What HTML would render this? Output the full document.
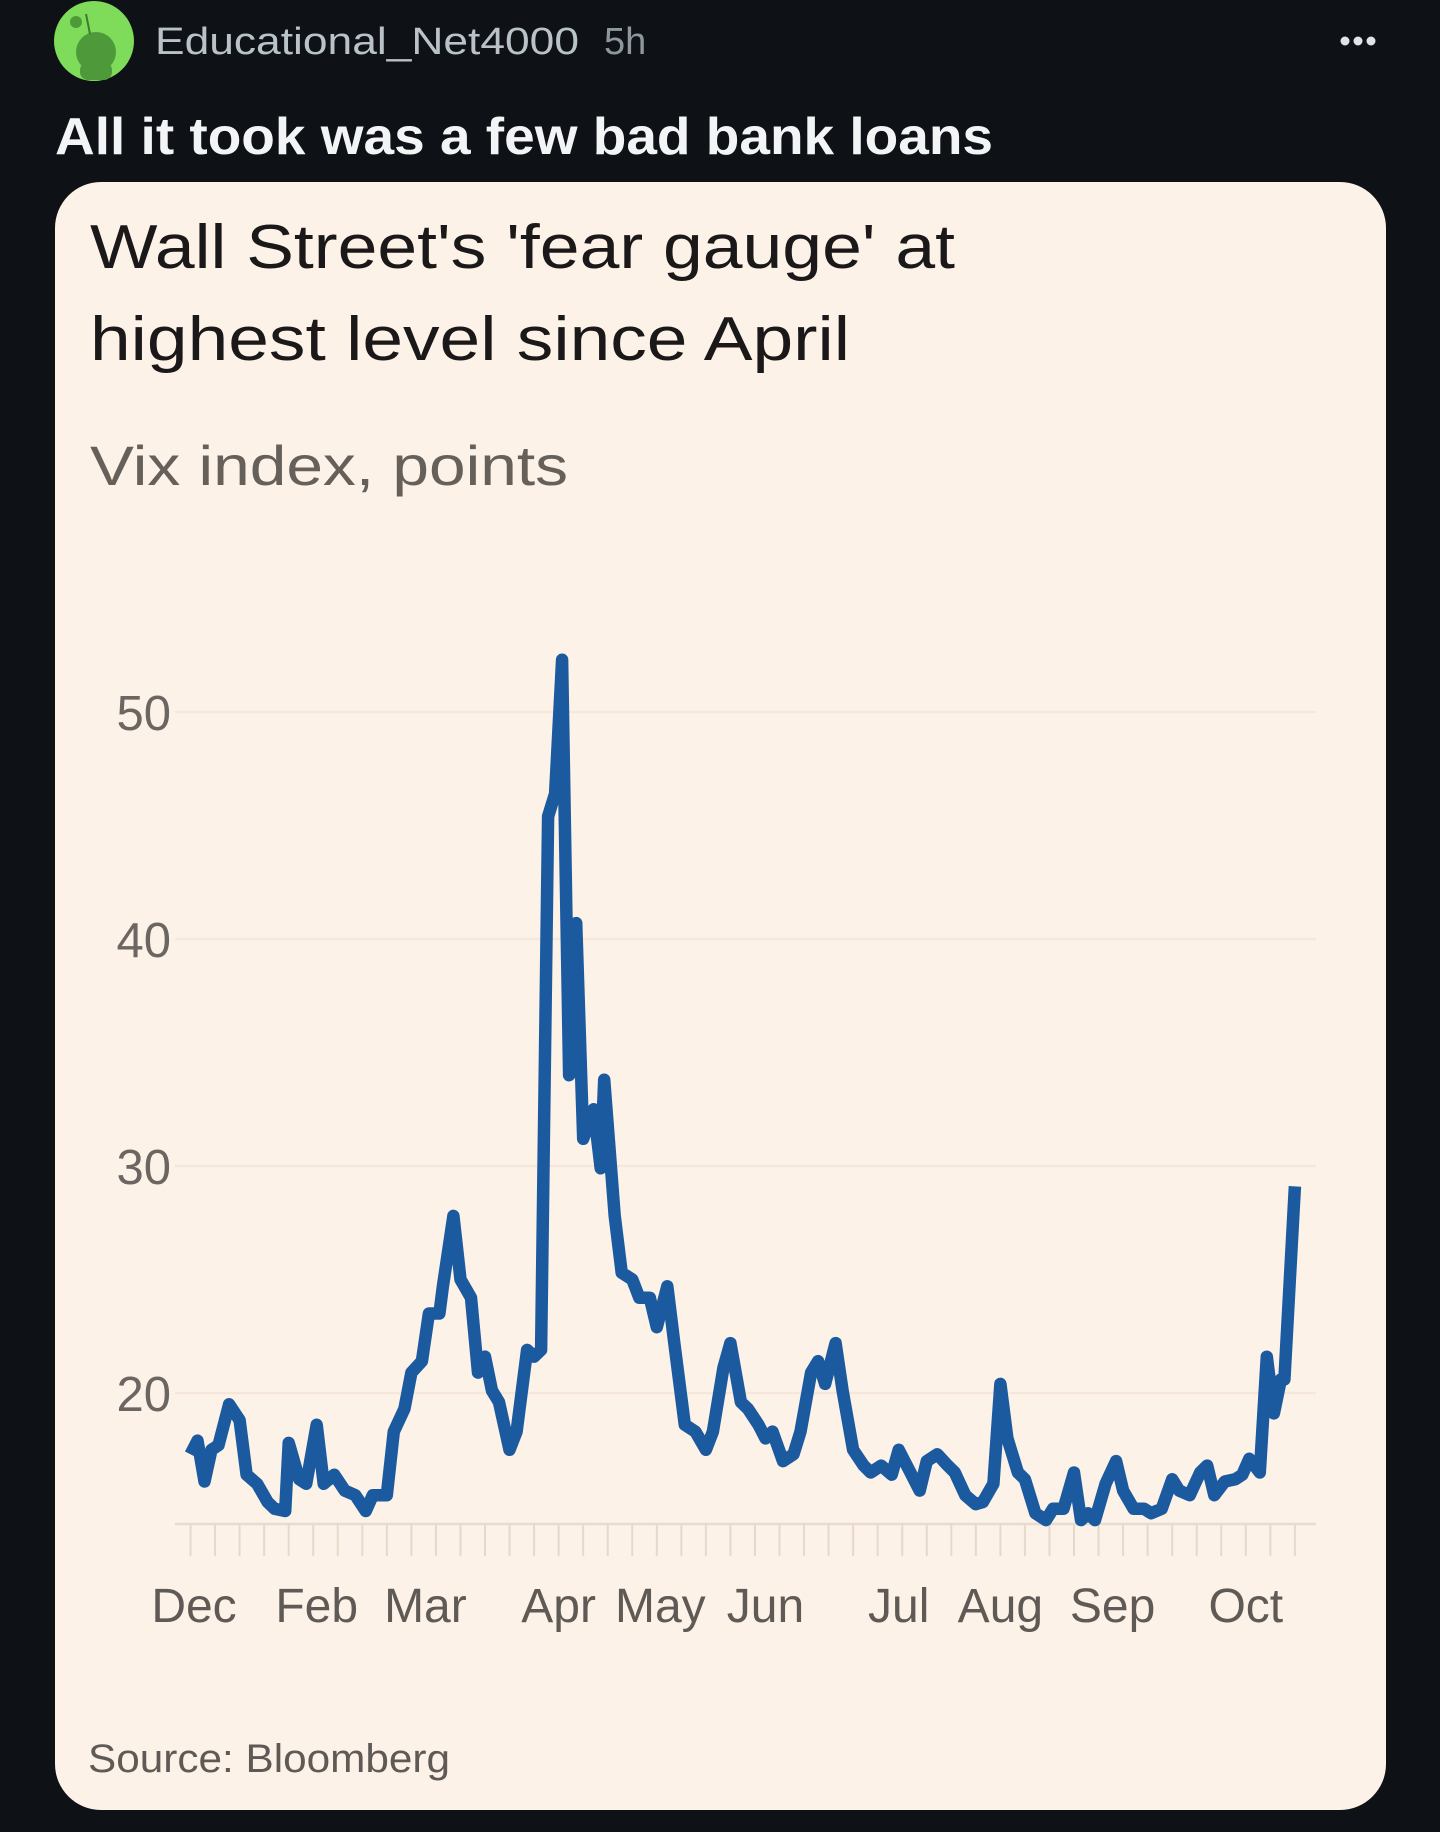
<!DOCTYPE html>
<html><head><meta charset="utf-8"><style>
html,body{margin:0;padding:0;background:#0e1115;}
svg{display:block;}
</style></head><body>
<svg id="root" width="1440" height="1832" viewBox="0 0 1440 1832" xmlns="http://www.w3.org/2000/svg">
<rect x="0" y="0" width="1440" height="1832" fill="#0e1115"/>
<g>
<circle cx="94" cy="41" r="40" fill="#7fdc5a"/>
<circle cx="96" cy="52" r="20" fill="#4e9a3a"/>
<circle cx="76" cy="22" r="6" fill="#4e9a3a"/>
<line x1="90" y1="34" x2="86" y2="14" stroke="#3d7a2e" stroke-width="2"/>
<rect x="80" y="62" width="32" height="18" rx="8" fill="#4e9a3a"/>
</g>
<text x="155" y="54" font-family="Liberation Sans, sans-serif" font-size="38" fill="#b8c2c8" textLength="424" lengthAdjust="spacingAndGlyphs">Educational_Net4000</text>
<text x="604" y="54" font-family="Liberation Sans, sans-serif" font-size="38" fill="#8c979e">5h</text>
<g fill="#e0e4e6">
<circle cx="1345" cy="41" r="4.5"/><circle cx="1358" cy="41" r="4.5"/><circle cx="1371" cy="41" r="4.5"/>
</g>
<text x="55" y="154" font-family="Liberation Sans, sans-serif" font-weight="bold" font-size="52" fill="#f2f4f5" textLength="938" lengthAdjust="spacingAndGlyphs">All it took was a few bad bank loans</text>
<rect x="55" y="182" width="1331" height="1628" rx="46" fill="#fdf2e8"/>
<text x="90" y="268" font-family="Liberation Sans, sans-serif" font-size="62" fill="#1a1818" textLength="865" lengthAdjust="spacingAndGlyphs">Wall Street's 'fear gauge' at</text>
<text x="90" y="360" font-family="Liberation Sans, sans-serif" font-size="62" fill="#1a1818" textLength="760" lengthAdjust="spacingAndGlyphs">highest level since April</text>
<text x="90" y="485" font-family="Liberation Sans, sans-serif" font-size="56" fill="#66605b" textLength="478" lengthAdjust="spacingAndGlyphs">Vix index, points</text>
<g id="grid"></g>
<g id="yaxis"></g>
<g id="xaxis"></g>
<g id="series"></g>
<text x="88" y="1772" font-family="Liberation Sans, sans-serif" font-size="40" fill="#5f5a55" textLength="362" lengthAdjust="spacingAndGlyphs">Source: Bloomberg</text>
</svg>
<script>
const days = [0,2,4,6,8,11,14,16,19,22,24,27,28,31,33,36,38,41,44,47,50,52,56,58,61,63,66,68,71,72,75,77,80,82,84,86,88,91,93,96,98,100,102,104,106,108,110,112,115,117,118,121,123,126,128,131,133,136,138,141,144,147,149,152,154,157,159,162,164,166,169,172,174,177,179,181,184,186,189,192,194,197,200,202,205,208,210,213,216,218,221,224,226,229,231,233,236,238,241,244,246,249,252,254,256,258,261,264,266,269,272,274,277,280,282,285,288,290,292,295,298,300,302,305,307,309,311,312,315];
const vix = [17.3,17.9,16.1,17.5,17.7,19.5,18.8,16.4,16.0,15.2,14.9,14.8,17.8,16.2,16.0,18.6,16.0,16.4,15.7,15.5,14.8,15.5,15.5,18.3,19.3,20.9,21.4,23.5,23.5,24.7,27.8,25.0,24.2,20.9,21.6,20.1,19.6,17.5,18.3,21.9,21.6,21.9,45.4,46.4,52.3,34.0,40.7,31.2,32.5,29.9,33.8,27.8,25.3,25.0,24.2,24.2,22.9,24.7,22.2,18.6,18.3,17.5,18.3,21.1,22.2,19.6,19.3,18.6,18.0,18.3,17.0,17.3,18.3,20.9,21.4,20.4,22.2,20.1,17.5,16.8,16.5,16.8,16.4,17.5,16.6,15.7,17.0,17.3,16.8,16.5,15.5,15.1,15.2,16.0,20.4,18.0,16.5,16.2,14.7,14.4,14.9,14.9,16.5,14.4,14.7,14.4,16.0,17.0,15.7,14.9,14.9,14.7,14.9,16.2,15.7,15.5,16.5,16.8,15.5,16.1,16.2,16.4,17.1,16.5,21.6,19.1,20.6,20.6,29.1];
const yTicks = [20,30,40,50];
const monthLabels = ["Dec","Feb","Mar","Apr","May","Jun","Jul","Aug","Sep","Oct"];
const monthDays = [1,36,67,105,134,164,202,231,263,301];

const NS = "http://www.w3.org/2000/svg";
const X0 = 190.5, PXD = 3.506;
function xs(d){ return X0 + d*PXD; }
function ys(v){ return 1393 - (v-20)*22.7; }
function mk(tag, attrs, parent){ const e=document.createElementNS(NS,tag); for(const k in attrs) e.setAttribute(k,attrs[k]); parent.appendChild(e); return e; }

const grid=document.getElementById('grid'), ya=document.getElementById('yaxis'), xa=document.getElementById('xaxis'), ser=document.getElementById('series');
yTicks.forEach(t=>{
  const l=mk('line',{x1:175,x2:1316,y1:ys(t),y2:ys(t),stroke:'#f6e7da','stroke-width':2.5},grid);
  
  
  const tx=mk('text',{x:171,y:ys(t)+18,'text-anchor':'end','font-family':'Liberation Sans, sans-serif','font-size':49,fill:'#6b6661'},ya);
  tx.textContent=String(t);
  
  
});
const ax=mk('line',{x1:175,x2:1316,y1:1524,y2:1524,stroke:'#e8dcd0','stroke-width':2.5},xa);


for(let d=0; d<=315; d+=7){
  const t=mk('line',{x1:xs(d),x2:xs(d),y1:1524,y2:1556,stroke:'#e6d9cc','stroke-width':2},xa);
  
  
}
monthLabels.forEach((m,i)=>{
  const tx=mk('text',{x:xs(monthDays[i]),y:1622,'text-anchor':'middle','font-family':'Liberation Sans, sans-serif','font-size':48,fill:'#5f5a55'},xa);
  tx.textContent=m;
  
  
});
const n=Math.min(days.length,vix.length);
let dstr='';
for(let i=0;i<n;i++){ dstr+=(i?'L':'M')+xs(days[i]).toFixed(1)+' '+ys(vix[i]).toFixed(1); }
const p=mk('path',{d:dstr,fill:'none',stroke:'#1c5a9f','stroke-width':12.5,'stroke-linejoin':'round','stroke-linecap':'butt'},ser);


</script>
</body></html>
